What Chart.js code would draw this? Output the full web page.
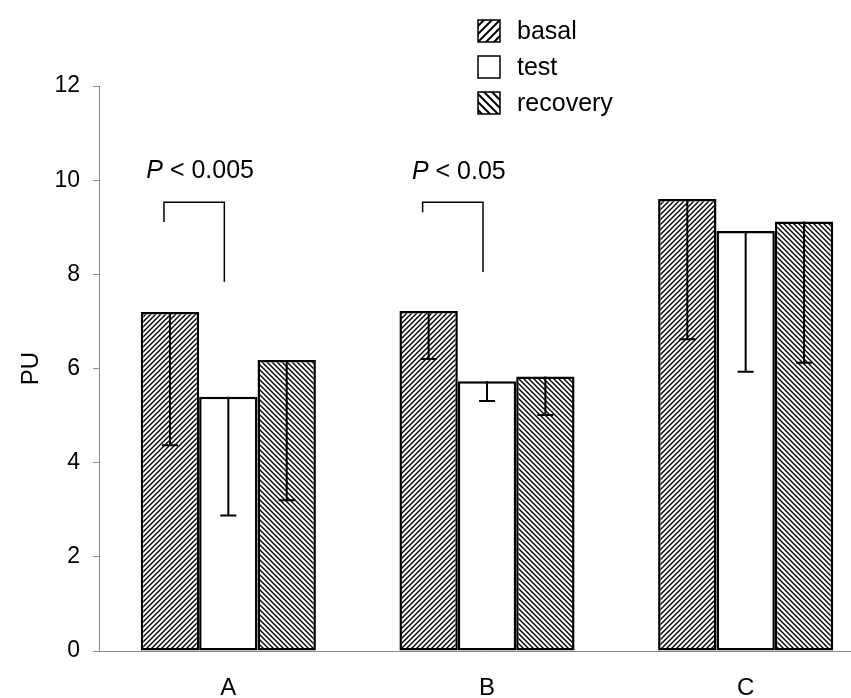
<!DOCTYPE html>
<html>
<head>
<meta charset="utf-8">
<script src="https://cdn.jsdelivr.net/npm/chart.js@4"></script>
<style>
  html, body { margin: 0; padding: 0; background: #fff; overflow: hidden; }
  .chart-container { position: relative; width: 875px; height: 698px; }
</style>
</head>
<body>
<div class="chart-container"><canvas id="puChart"></canvas></div>
<script>
// data
const categories = ['A', 'B', 'C'];
const seriesNames = ['basal', 'test', 'recovery'];
const basal = [7.2, 7.22, 9.6];
const test = [5.4, 5.73, 8.92];
const recovery = [6.18, 5.83, 9.12];
// lower end of the (one-sided) error bars
const basalLow = [4.37, 6.2, 6.62];
const testLow = [2.88, 5.31, 5.93];
const recoveryLow = [3.2, 5.01, 6.12];
const yTicks = [0, 2, 4, 6, 8, 10, 12];

// significance brackets: basal vs test
const bracketCats = ['A', 'B'];
const bracketTop = [9.53, 9.53];
const bracketLeftEnd = [9.11, 9.32];
const bracketRightEnd = [7.84, 8.05];
const bracketText = ['< 0.005', '< 0.05'];
const bracketTextY = [10.2, 10.17];

const FONT = '"Liberation Sans", Arial, sans-serif';

function hatch(dir, size, lw) {
    const c = document.createElement('canvas');
    c.width = c.height = size;
    const g = c.getContext('2d');
    g.fillStyle = '#fff';
    g.fillRect(0, 0, size, size);
    g.strokeStyle = '#000';
    g.lineWidth = lw;
    g.beginPath();
    if (dir === '/') {
        g.moveTo(-1, 1); g.lineTo(1, -1);
        g.moveTo(0, size); g.lineTo(size, 0);
        g.moveTo(size - 1, size + 1); g.lineTo(size + 1, size - 1);
    } else {
        g.moveTo(-1, size - 1); g.lineTo(1, size + 1);
        g.moveTo(0, 0); g.lineTo(size, size);
        g.moveTo(size - 1, -1); g.lineTo(size + 1, 1);
    }
    g.stroke();
    return g.createPattern(c, 'repeat');
}

const fills = [hatch('/', 5, 1.4), '#ffffff', hatch('\\', 5, 1.4)];
const legendFills = [hatch('/', 8, 2), '#ffffff', hatch('\\', 8, 2)];
const lows = [basalLow, testLow, recoveryLow];

// error bars drawn from the bar top down to the lower value
const errorBars = {
    id: 'errorBars',
    afterDatasetsDraw(chart) {
        const ctx = chart.ctx;
        const y = chart.scales.y;
        ctx.save();
        ctx.strokeStyle = '#000';
        ctx.lineWidth = 2;
        chart.data.datasets.forEach((ds, i) => {
            const meta = chart.getDatasetMeta(i);
            meta.data.forEach((bar, j) => {
                const yTop = y.getPixelForValue(ds.data[j]);
                const yLow = y.getPixelForValue(lows[i][j]);
                ctx.beginPath();
                ctx.moveTo(bar.x, yTop);
                ctx.lineTo(bar.x, yLow);
                ctx.moveTo(bar.x - 8, yLow);
                ctx.lineTo(bar.x + 8, yLow);
                ctx.stroke();
            });
        });
        ctx.restore();
    }
};

const brackets = {
    id: 'brackets',
    afterDraw(chart) {
        const ctx = chart.ctx;
        const y = chart.scales.y;
        const m0 = chart.getDatasetMeta(0);
        const m1 = chart.getDatasetMeta(1);
        ctx.save();
        bracketCats.forEach((cat, k) => {
            const j = categories.indexOf(cat);
            const xl = m0.data[j].x - 6;
            const xr = m1.data[j].x - 4;
            ctx.strokeStyle = '#000';
            ctx.lineWidth = 1.5;
            ctx.beginPath();
            ctx.moveTo(xl, y.getPixelForValue(bracketLeftEnd[k]));
            ctx.lineTo(xl, y.getPixelForValue(bracketTop[k]));
            ctx.lineTo(xr, y.getPixelForValue(bracketTop[k]));
            ctx.lineTo(xr, y.getPixelForValue(bracketRightEnd[k]));
            ctx.stroke();

            const ty = y.getPixelForValue(bracketTextY[k]);
            ctx.fillStyle = '#000';
            ctx.textBaseline = 'middle';
            ctx.textAlign = 'left';
            ctx.font = 'italic 25px ' + FONT;
            const wP = ctx.measureText('P').width;
            ctx.font = '25px ' + FONT;
            const rest = ' ' + bracketText[k];
            const wR = ctx.measureText(rest).width;
            const x0 = (xl + xr) / 2 + 6 - (wP + wR) / 2;
            ctx.font = 'italic 25px ' + FONT;
            ctx.fillText('P', x0, ty);
            ctx.font = '25px ' + FONT;
            ctx.fillText(rest, x0 + wP, ty);
        });
        ctx.restore();
    }
};

const boxLegend = {
    id: 'boxLegend',
    afterDraw(chart) {
        const ctx = chart.ctx;
        ctx.save();
        seriesNames.forEach((name, i) => {
            const bx = 478, by = 20 + i * 36, s = 22;
            ctx.fillStyle = legendFills[i];
            ctx.fillRect(bx, by, s, s);
            ctx.strokeStyle = '#000';
            ctx.lineWidth = 1.5;
            ctx.strokeRect(bx, by, s, s);
            ctx.fillStyle = '#000';
            ctx.font = '25px ' + FONT;
            ctx.textBaseline = 'middle';
            ctx.textAlign = 'left';
            ctx.fillText(name, bx + 39, by + s / 2 + 1);
        });
        ctx.restore();
    }
};

const values = [basal, test, recovery];
const ctx = document.getElementById('puChart').getContext('2d');
const puChart = new Chart(ctx, {
    type: 'bar',
    data: {
        labels: categories,
        datasets: seriesNames.map((name, i) => ({
            label: name,
            data: values[i],
            backgroundColor: fills[i],
            borderColor: '#000',
            borderWidth: 2.5,
            borderSkipped: false,
            categoryPercentage: 0.677,
            barPercentage: 1.0
        }))
    },
    options: {
        responsive: true,
        maintainAspectRatio: false,
        animation: false,
        layout: { padding: { top: 86, left: 0, right: 0, bottom: 0 } },
        plugins: {
            legend: { display: false },
            tooltip: { enabled: false }
        },
        scales: {
            x: {
                grid: { display: false },
                border: { display: true, color: '#8a8a8a', width: 1 },
                ticks: { color: '#000', font: { family: FONT, size: 24 }, padding: 15 },
                afterFit(scale) { scale.height = 47; }
            },
            y: {
                min: 0,
                max: 12,
                afterBuildTicks(scale) { scale.ticks = yTicks.map(v => ({ value: v })); },
                grid: { drawOnChartArea: false, drawTicks: true, tickLength: 6, color: '#8a8a8a' },
                border: { display: true, color: '#8a8a8a', width: 1 },
                ticks: { color: '#000', font: { family: FONT, size: 23 }, padding: 13 },
                title: { display: true, text: 'PU', color: '#000', font: { family: FONT, size: 24 }, padding: { top: 17 } },
                afterFit(scale) { scale.width = 99; }
            }
        }
    },
    plugins: [errorBars, brackets, boxLegend]
});
</script>
</body>
</html>
